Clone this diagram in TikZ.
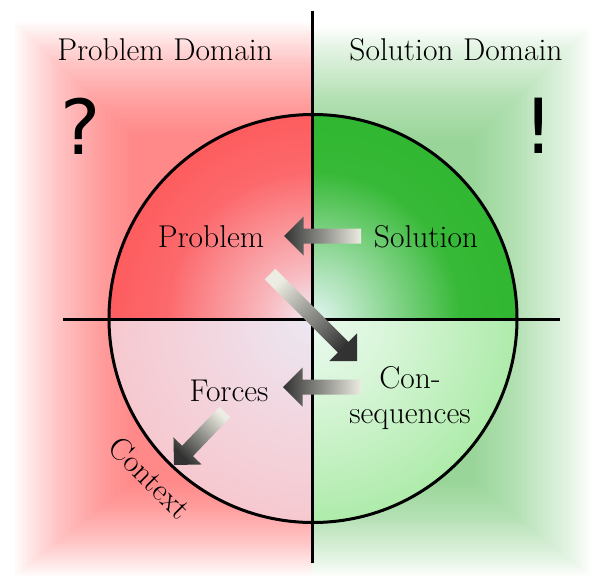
\documentclass[tikz,border=0pt]{standalone}
\usepackage{fontspec}
\newfontfamily\symfont{DejaVu Sans}
\usetikzlibrary{calc}
\definecolor{redglow}{RGB}{255,60,60}
\definecolor{greenglow}{RGB}{60,175,60}
\definecolor{arrtail}{RGB}{236,236,226}
\definecolor{arrhead}{RGB}{50,50,50}
\definecolor{tlA}{RGB}{240,235,245}
\definecolor{tlB}{RGB}{248,185,190}
\definecolor{tlC}{RGB}{252,105,108}
\definecolor{tlD}{RGB}{255,74,74}
\definecolor{tlE}{RGB}{255,64,64}
\definecolor{trA}{RGB}{225,245,240}
\definecolor{trB}{RGB}{170,225,180}
\definecolor{trC}{RGB}{55,185,55}
\definecolor{trD}{RGB}{25,175,25}
\definecolor{blA}{RGB}{235,232,242}
\definecolor{blB}{RGB}{242,215,225}
\definecolor{blC}{RGB}{248,195,200}
\definecolor{blD}{RGB}{252,180,185}
\definecolor{brA}{RGB}{235,250,240}
\definecolor{brB}{RGB}{215,245,215}
\definecolor{brC}{RGB}{160,232,155}
\definecolor{brD}{RGB}{120,222,115}
\pgfdeclareradialshading{tlshade}{\pgfpoint{0bp}{0bp}}{color(0bp)=(tlA); color(6bp)=(tlB); color(18bp)=(tlC); color(35bp)=(tlD); color(50bp)=(tlE)}
\pgfdeclareradialshading{trshade}{\pgfpoint{0bp}{0bp}}{color(0bp)=(trA); color(6bp)=(trB); color(18bp)=(trC); color(50bp)=(trD)}
\pgfdeclareradialshading{blshade}{\pgfpoint{0bp}{0bp}}{color(0bp)=(blA); color(12bp)=(blB); color(30bp)=(blC); color(50bp)=(blD)}
\pgfdeclareradialshading{brshade}{\pgfpoint{0bp}{0bp}}{color(0bp)=(brA); color(10bp)=(brB); color(30bp)=(brC); color(50bp)=(brD)}
\pgfdeclarehorizontalshading{arrowgrad}{100bp}{color(0bp)=(arrtail); color(25bp)=(arrtail); color(75bp)=(arrhead); color(100bp)=(arrhead)}
\newcommand\blockarrow[3]{%
  \coordinate (#2-base) at ($(#2)!19.5pt!(#1)$);
  \shade[shading=arrowgrad, shading angle=#3]
    ($(#1)!7.5pt!90:(#2)$) -- ($(#2-base)!7.5pt!90:(#2)$) --
    ($(#2-base)!19.5pt!90:(#2)$) -- (#2) --
    ($(#2-base)!19.5pt!-90:(#2)$) -- ($(#2-base)!7.5pt!-90:(#2)$) --
    ($(#1)!7.5pt!-90:(#2)$) -- cycle;
}
\begin{document}
\begin{tikzpicture}[x=1pt,y=-1pt,
  lbl/.style={font=\fontsize{31.5}{35}\selectfont, inner sep=0pt},
  sym/.style={font=\symfont\fontsize{76}{80}\selectfont, inner sep=0pt},
  thick line/.style={line width=3pt, line cap=butt}]
\useasboundingbox (0,0) rectangle (593,578);
% background glows
\foreach \i in {1,...,48} {
  \fill[redglow, opacity=0.02] ({12+2.5*\i},{20+2.4*\i}) rectangle (312,{578-2*\i});
  \fill[greenglow, opacity=0.017] (312,{25+2.4*\i}) rectangle ({593-2.5*\i},{578-2*\i});
}
\coordinate (c) at (313,318.5);
% quadrants
\begin{scope}
  \clip (100,100) rectangle (313,318.5);
  \shade[shading=tlshade] (c) circle[radius=204];
\end{scope}
\begin{scope}
  \clip (313,100) rectangle (530,318.5);
  \shade[shading=trshade] (c) circle[radius=204];
\end{scope}
\begin{scope}
  \clip (100,318.5) rectangle (313,530);
  \shade[shading=blshade] (c) circle[radius=204];
\end{scope}
\begin{scope}
  \clip (313,318.5) rectangle (530,530);
  \shade[shading=brshade] (c) circle[radius=204];
\end{scope}
\draw[line width=3pt] (c) circle[radius=204];
% axes
\coordinate (vtop) at (312,11);
\coordinate (vbot) at (312,563);
\coordinate (hleft) at (63,319);
\coordinate (hright) at (560,319);
\draw[thick line] (vtop) -- (vbot);
\draw[thick line] (hleft) -- (hright);
% labels
\node[lbl, anchor=base] (pd) at (165,60) {Problem Domain};
\node[lbl, anchor=base] (sd) at (456,60) {Solution Domain};
\node[sym, anchor=base] (qm) at (81,154) {?};
\node[sym, anchor=base] (em) at (539,153) {!};
\node[lbl, anchor=base] (prob) at (211,247) {Problem};
\node[lbl, anchor=base] (sol) at (426,247) {Solution};
\node[lbl, align=center] (cons) at (410,398) {Con-\\sequences};
\node[lbl, anchor=base] (forc) at (229,401) {Forces};
\node[lbl, rotate=-45] (ctx) at (150,478) {Context};
% arrows
\coordinate (a1s) at (361,236);
\coordinate (a1e) at (284,236);
\coordinate (a2s) at (270,274);
\coordinate (a2e) at (357,361);
\coordinate (a3s) at (361,387);
\coordinate (a3e) at (283,387);
\coordinate (a4s) at (225,412);
\coordinate (a4e) at (174,465);
\blockarrow{a1s}{a1e}{180}
\blockarrow{a2s}{a2e}{-45}
\blockarrow{a3s}{a3e}{180}
\blockarrow{a4s}{a4e}{-135}
\end{tikzpicture}
\end{document}
